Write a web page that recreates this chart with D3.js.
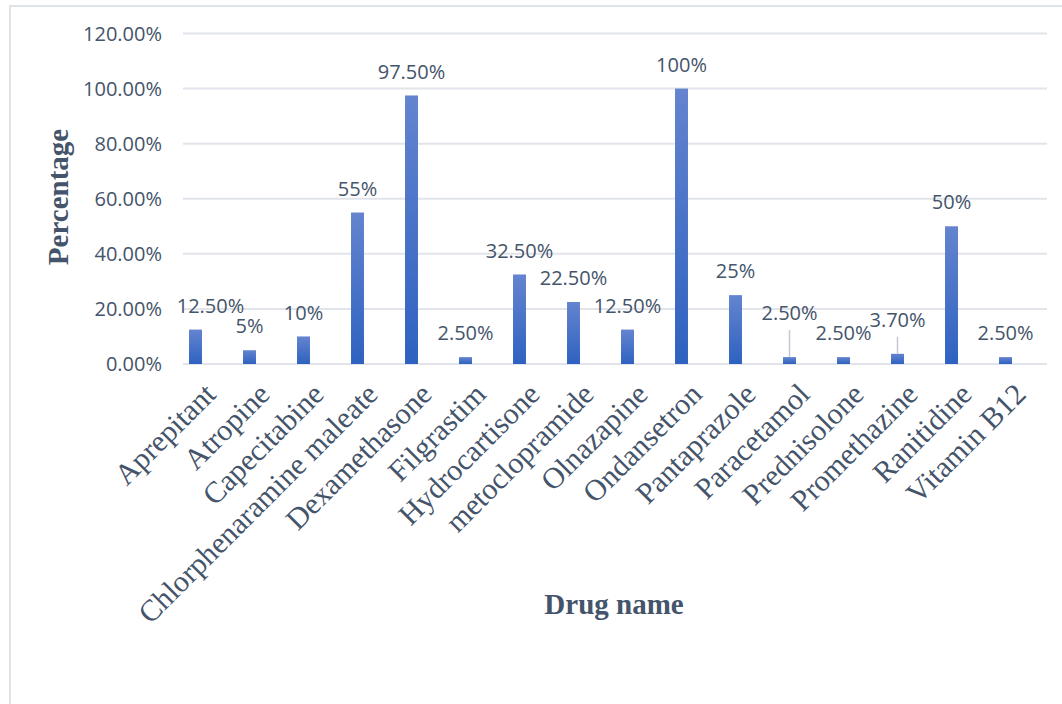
<!DOCTYPE html>
<html lang="en">
<head>
  <meta charset="utf-8">
  <title>Drug usage percentage</title>
  <script src="https://d3js.org/d3.v7.min.js"></script>
  <style>
    body { margin: 0; background: #fff; }
  </style>
</head>
<body>
  <div id="chart"></div>
  <script>
    // drug names and percentages
    var drugs = ["Aprepitant", "Atropine", "Capecitabine", "Chlorphenaramine maleate",
      "Dexamethasone", "Filgrastim", "Hydrocartisone", "metoclopramide", "Olnazapine",
      "Ondansetron", "Pantaprazole", "Paracetamol", "Prednisolone", "Promethazine",
      "Ranitidine", "Vitamin B12"];
    var percents = [0.125, 0.05, 0.10, 0.55, 0.975, 0.025, 0.325, 0.225, 0.125,
      1.00, 0.25, 0.025, 0.025, 0.037, 0.50, 0.025];
    var valueLabels = ["12.50%", "5%", "10%", "55%", "97.50%", "2.50%", "32.50%", "22.50%",
      "12.50%", "100%", "25%", "2.50%", "2.50%", "3.70%", "50%", "2.50%"];
    var yTicks = [0, 0.2, 0.4, 0.6, 0.8, 1.0, 1.2];

    var W = 1062, H = 704;
    var textCol = "#44546a";

    var svg = d3.select("#chart").append("svg")
      .attr("width", W).attr("height", H);

    // outer chart border (cut off at right and bottom like the picture)
    svg.append("rect")
      .attr("x", 10).attr("y", 6)
      .attr("width", 1060).attr("height", 710)
      .attr("fill", "none").attr("stroke", "#dfe3ea").attr("stroke-width", 2);

    var defs = svg.append("defs");
    var grad = defs.append("linearGradient").attr("id", "barGrad")
      .attr("x1", 0).attr("y1", 0).attr("x2", 0).attr("y2", 1);
    grad.append("stop").attr("offset", "0%").attr("stop-color", "#6484cf");
    grad.append("stop").attr("offset", "100%").attr("stop-color", "#2e62c0");

    var y = d3.scaleLinear().domain([0, 1.2]).range([364, 33.5]);
    var x = d3.scaleBand().domain(drugs).range([168.5, 1032.5])
      .paddingInner(0.76).paddingOuter(0.38);

    // gridlines
    svg.append("g").selectAll("line")
      .data(yTicks).enter().append("line")
      .attr("x1", 183).attr("x2", 1047)
      .attr("y1", function (d) { return y(d); })
      .attr("y2", function (d) { return y(d); })
      .attr("stroke", "#e1e4ea").attr("stroke-width", 2);

    // y tick labels
    svg.append("g").selectAll("text")
      .data(yTicks).enter().append("text")
      .attr("x", 162)
      .attr("y", function (d) { return y(d); })
      .attr("dy", "0.36em")
      .attr("text-anchor", "end")
      .attr("font-family", "Open Sans, sans-serif")
      .attr("font-size", 20)
      .attr("fill", textCol)
      .text(function (d) { return (d * 100).toFixed(2) + "%"; });

    // bars
    svg.append("g").selectAll("rect")
      .data(drugs).enter().append("rect")
      .attr("x", function (d) { return x(d); })
      .attr("width", x.bandwidth())
      .attr("y", function (d, i) { return y(percents[i]); })
      .attr("height", function (d, i) { return y(0) - y(percents[i]); })
      .attr("fill", "url(#barGrad)");

    // value labels (a few are nudged like in the original)
    var labelNudge = { "Aprepitant": [15, 0], "Paracetamol": [0, -20], "Promethazine": [0, -10] };
    var lbl = svg.append("g");
    drugs.forEach(function (d, i) {
      var cx = x(d) + x.bandwidth() / 2;
      var top = y(percents[i]);
      var n = labelNudge[d] || [0, 0];
      var ly = top - 24 + n[1];
      if (n[1] < 0) {
        lbl.append("line")
          .attr("x1", cx).attr("x2", cx)
          .attr("y1", ly + 17).attr("y2", top)
          .attr("stroke", "#c0c8d4").attr("stroke-width", 1.5);
      }
      lbl.append("text")
        .attr("x", cx + n[0]).attr("y", ly)
        .attr("dy", "0.36em")
        .attr("text-anchor", "middle")
        .attr("font-family", "Open Sans, sans-serif")
        .attr("font-size", 20)
        .attr("fill", textCol)
        .text(valueLabels[i]);
    });

    // rotated category labels
    svg.append("g").selectAll("text")
      .data(drugs).enter().append("text")
      .attr("transform", function (d) {
        var cx = x(d) + x.bandwidth() / 2 + 22;
        return "translate(" + cx + ",396) rotate(-45)";
      })
      .attr("text-anchor", "end")
      .attr("font-family", "Liberation Serif, Times New Roman, serif")
      .attr("font-size", 30)
      .attr("fill", textCol)
      .text(function (d) { return d; });

    // axis titles
    svg.append("text")
      .attr("transform", "translate(68,197) rotate(-90)")
      .attr("text-anchor", "middle")
      .attr("font-family", "Liberation Serif, Times New Roman, serif")
      .attr("font-weight", "bold")
      .attr("font-size", 29)
      .attr("fill", textCol)
      .text("Percentage");

    svg.append("text")
      .attr("x", 614).attr("y", 614)
      .attr("text-anchor", "middle")
      .attr("font-family", "Liberation Serif, Times New Roman, serif")
      .attr("font-weight", "bold")
      .attr("font-size", 29)
      .attr("fill", textCol)
      .text("Drug name");
  </script>
</body>
</html>
